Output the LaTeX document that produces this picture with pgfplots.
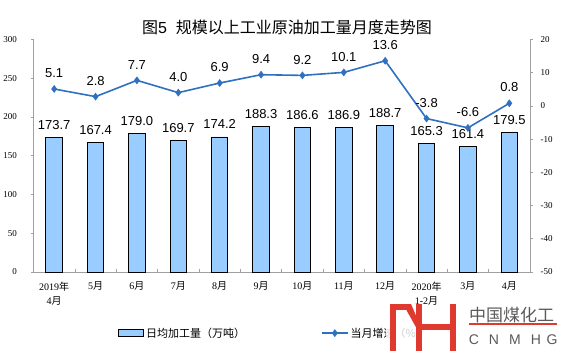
\documentclass[border=0pt]{standalone}
\usepackage{pgfplots}
\pgfplotsset{compat=1.18}
\usepackage{fontspec}
\setmainfont{Liberation Serif}
\newfontfamily\cjk{Noto Sans CJK SC}
\newfontfamily\arial{Liberation Sans}
\definecolor{barfill}{RGB}{153,204,255}
\definecolor{linecol}{RGB}{48,112,192}
\definecolor{axgray}{RGB}{160,160,160}
\definecolor{logored}{RGB}{224,58,48}
\definecolor{logogray}{RGB}{90,90,90}
\pgfplotsset{
  barleg/.style={legend image code/.code={\draw[##1] (0pt,-3.5pt) rectangle (25pt,3.5pt);}},
  lineleg/.style={legend image code/.code={\draw[mark repeat=2,mark phase=2,##1] plot coordinates {(0pt,0pt) (13pt,0pt) (26pt,0pt)};}},
}
\begin{document}
\begin{tikzpicture}[x=1pt,y=1pt]
\useasboundingbox (0,0) rectangle (561,357);
\node[font=\cjk\fontsize{16}{18}\selectfont] at (287,330) {图{\arial 5}\kern 9pt\relax 规模以上工业原油加工量月度走势图};
\begin{axis}[
  at={(33.5pt,85pt)}, anchor=south west,
  scale only axis, width=496.5pt, height=232.5pt,
  xmin=-0.5, xmax=11.5, ymin=0, ymax=300,
  ytick={0,50,...,300},
  axis x line*=bottom, axis y line*=left,
  axis line style={draw=axgray, line width=0.6pt, -},
  tick align=outside, major tick length=3pt, minor tick length=3pt,
  every tick/.style={draw=axgray, line width=0.6pt},
  xtick={0,...,11},
  major x tick style={draw=none},
  minor xtick={-0.5,0.5,...,11.5},
  minor x tick style={yshift=3pt},
  xticklabels={{2019\cjk{年}\\4\cjk{月}},{5\cjk{月}},{6\cjk{月}},{7\cjk{月}},{8\cjk{月}},{9\cjk{月}},{10\cjk{月}},{11\cjk{月}},{12\cjk{月}},{2020\cjk{年}\\1-2\cjk{月}},{3\cjk{月}},{4\cjk{月}}},
  xticklabel style={align=center, font=\fontsize{10}{14}\selectfont, yshift=-3.5pt},
  yticklabel style={font=\fontsize{9}{11}\selectfont, xshift=-10pt},
  /pgf/number format/assume math mode=true,
  ybar, bar width=16.5pt,
  nodes near coords,
  nodes near coords style={font=\arial\fontsize{13}{15}\selectfont, anchor=base, yshift=8pt,
    /pgf/number format/.cd, fixed, fixed zerofill, precision=1, assume math mode=true},
]
\addplot[fill=barfill, draw=black, line width=0.9pt] coordinates {
(0,173.7) (1,167.4) (2,179.0) (3,169.7) (4,174.2) (5,188.3)
(6,186.6) (7,186.9) (8,188.7) (9,165.3) (10,161.4) (11,179.5)};
\end{axis}
\begin{axis}[
  at={(33.5pt,85pt)}, anchor=south west,
  scale only axis, width=496.5pt, height=232.5pt,
  xmin=-0.5, xmax=11.5, ymin=-50, ymax=20,
  ytick={-50,-40,...,20},
  axis x line=none, axis y line*=right,
  axis line style={draw=axgray, line width=0.6pt, -},
  tick align=outside, major tick length=3pt,
  every tick/.style={draw=axgray, line width=0.6pt},
  yticklabel style={font=\fontsize{9}{11}\selectfont, xshift=4pt},
  /pgf/number format/assume math mode=true,
  legend columns=2,
  legend style={at={(0.17,-0.263)}, anchor=west, draw=none, fill=none,
    font=\cjk\fontsize{11}{13}\selectfont, inner sep=0pt,
    /tikz/every even column/.append style={column sep=74pt}},
  legend cell align=left,
]
\addlegendimage{fill=barfill, draw=black, line width=0.9pt, barleg}
\addlegendentry{日均加工量（万吨）}
\addplot[color=linecol, line width=1.6pt, mark=diamond*, mark size=3.5pt,
  mark options={fill=linecol, line width=0.5pt}, lineleg,
  nodes near coords,
  nodes near coords style={font=\arial\fontsize{13}{15}\selectfont, text=black, anchor=base, yshift=11.3pt,
    /pgf/number format/.cd, fixed, fixed zerofill, precision=1, assume math mode=true}]
coordinates {
(0,5.1) (1,2.8) (2,7.7) (3,4.0) (4,6.9) (5,9.4)
(6,9.2) (7,10.1) (8,13.6) (9,-3.8) (10,-6.6) (11,0.8)};
\addlegendentry{当月增速（\%）}
\end{axis}
% watermark logo
\fill[white, opacity=0.82] (386,0) rectangle (561,49);
\fill[logored] (390,6) rectangle (396,53);
\fill[logored] (390,47) rectangle (408,53);
\fill[logored] (403,53) -- (411,53) -- (417,39) -- (417,28) -- cycle;
\fill[logored] (416,6) rectangle (422,53);
\fill[logored] (422,27) rectangle (450,33);
\fill[logored] (450,6) rectangle (456,53);
\node[font=\cjk\fontsize{17}{19}\selectfont, text=logogray, anchor=west, inner sep=0pt] at (469,42) {中国煤化工};
\draw[logored, line width=1.4pt] (469,33) -- (557,33);
\foreach \xx/\ll in {474/C,494/N,515/M,536/H,552/G}
  \node[font=\arial\fontsize{14}{16}\selectfont, text=logogray, inner sep=0pt] at (\xx,17) {\ll};
\end{tikzpicture}
\end{document}
